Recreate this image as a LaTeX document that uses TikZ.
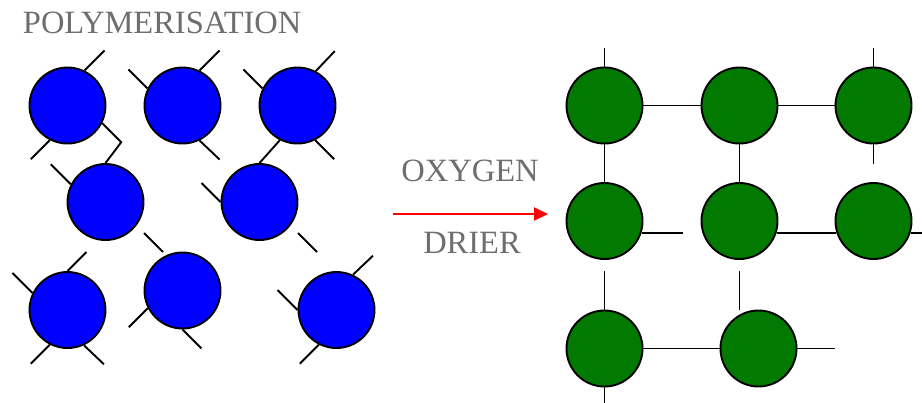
\documentclass[tikz,border=0pt]{standalone}
\usepackage{fontspec}
\setmainfont{Liberation Serif}
\usetikzlibrary{arrows.meta}
\definecolor{monoblue}{HTML}{0000FF}
\definecolor{filmgreen}{HTML}{027A02}
\definecolor{labelgray}{HTML}{6E6E6E}

\begin{document}
\begin{tikzpicture}[x=1bp,y=-1bp,line width=1.9bp,
        mono/.style={circle,draw,fill=monoblue,minimum size=76bp,inner sep=0pt},
        film/.style={circle,draw,fill=filmgreen,minimum size=76bp,inner sep=0pt},
        lbl/.style={text=labelgray,font=\fontsize{32.5bp}{38bp}\selectfont,inner sep=0pt}]
  \useasboundingbox (0,0) rectangle (922,402);
  \node[lbl,anchor=base west] (title) at (22,33) {POLYMERISATION};
  \node[lbl,anchor=base] (oxy) at (470,181) {OXYGEN};
  \node[lbl,anchor=base] (dri) at (472,253) {DRIER};
  \coordinate (arrfrom) at (393,214);
  \coordinate (arrto) at (548,214);
  \draw[red,-{Triangle[length=14bp,width=13bp]}] (arrfrom) -- (arrto);

  % monomers
  \node[mono] (b1) at (67.5,105.5) {};
  \node[mono] (b2) at (182.5,105.5) {};
  \node[mono] (b3) at (297.5,105.5) {};
  \node[mono] (b4) at (105.5,202) {};
  \node[mono] (b5) at (259.5,202) {};
  \node[mono] (b6) at (67.5,310) {};
  \node[mono] (b7) at (182.5,290.5) {};
  \node[mono] (b8) at (336.5,310) {};
  \draw (b1.64) -- ++(20,-20);
  \draw (b1.-27) -- ++(19,19) -- (b4.north);
  \draw (b1.-117) -- ++(-19,19);
  \draw (b2.154) -- ++(-19,-19);
  \draw (b2.64) -- ++(20,-20);
  \draw (b2.-64) -- ++(20,19);
  \draw (b3.154) -- ++(-19,-19);
  \draw (b3.62) -- ++(19,-20);
  \draw (b3.-117) -- (b5.north);
  \draw (b3.-63) -- ++(19,19);
  \draw (b4.153) -- ++(-20,-20);
  \draw (b4.center) ++(38.5,31) -- ++(19,19);
  \draw (b5.west) -- ++(-19,-19);
  \draw (b5.center) ++(38.5,31) -- ++(19,19);
  \draw (b6.north) -- ++(19,-19);
  \draw (b6.154) -- ++(-20,-20);
  \draw (b6.-117) -- ++(-19,19);
  \draw (b6.-65) -- ++(20,19);
  \draw (b7.-153) -- ++(-19,19);
  \draw (b7.south) -- ++(19,19);
  \draw (b8.65) -- ++(20,-19);
  \draw (b8.west) -- ++(-20,-20);
  \draw (b8.-117) -- ++(-19,19);

  % film
  \node[film] (g1) at (604.5,105.5) {};
  \node[film] (g2) at (739.5,105.5) {};
  \node[film] (g3) at (873.5,105.5) {};
  \node[film] (g4) at (604.5,221) {};
  \node[film] (g5) at (739.5,221) {};
  \node[film] (g6) at (873.5,221) {};
  \node[film] (g7) at (604.5,348.5) {};
  \node[film] (g8) at (758.5,348.5) {};
  \draw (g1) -- (g2);
  \draw (g2) -- (g3);
  \draw (g1) -- (g4);
  \draw (g2) -- (g5);
  \draw (g7) -- (g8);
  \draw (g5.-18) -- (g6.-162);
  \draw (g1.north) -- ++(0,-19);
  \draw (g3.north) -- ++(0,-19);
  \draw (g3.south) -- ++(0,20);
  \draw (g4.-18) -- ++(41,0);
  \draw (g6.-18) -- ++(16,0);
  \draw (g7.north) -- ++(0,-39);
  \draw (g5.south) ++(0,11.5) -- ++(0,39);
  \draw (g8.east) -- ++(38,0);
  \draw (g7.south) -- ++(0,17);
\end{tikzpicture}
\end{document}
